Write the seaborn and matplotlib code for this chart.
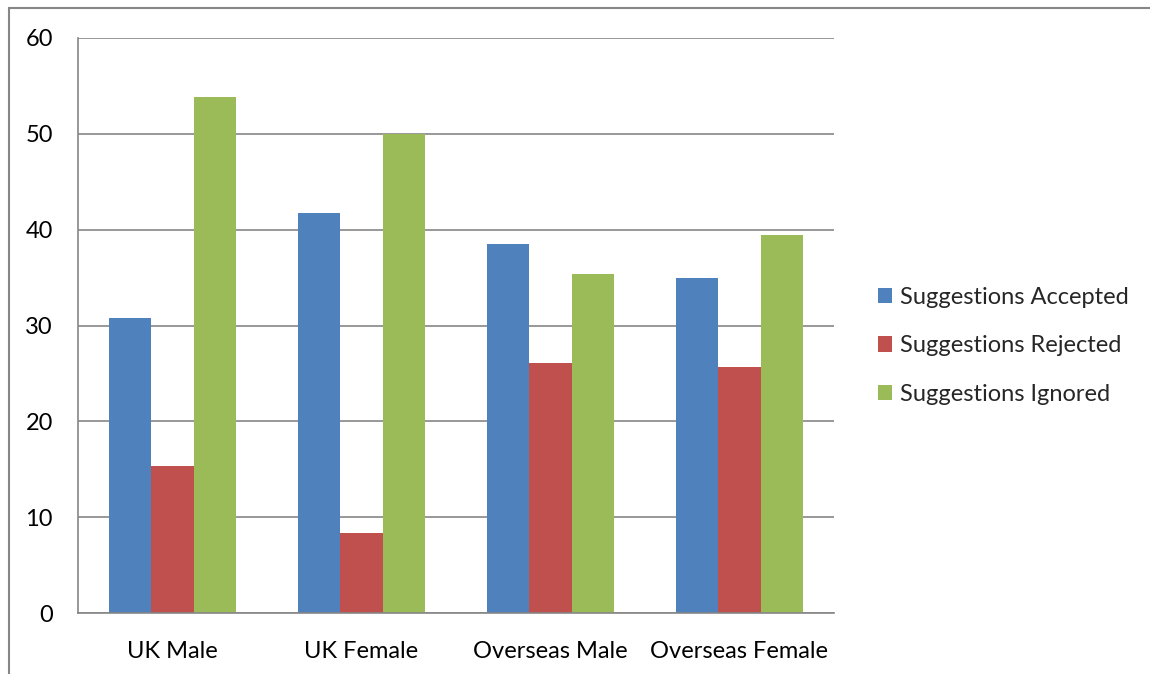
import matplotlib
matplotlib.use("Agg")
import matplotlib.pyplot as plt
import seaborn as sns
import pandas as pd
from matplotlib.patches import Rectangle, Patch

categories = ["UK Male", "UK Female", "Overseas Male", "Overseas Female"]
series = ["Suggestions Accepted", "Suggestions Rejected", "Suggestions Ignored"]
accepted = [30.8, 41.7, 38.5, 35.0]
rejected = [15.3, 8.3, 26.1, 25.7]
ignored = [53.8, 50.0, 35.4, 39.4]
colors = ["#4F81BD", "#C0504D", "#9BBB59"]
yticks = [0, 10, 20, 30, 40, 50, 60]

rows = []
for s, vals in zip(series, [accepted, rejected, ignored]):
    for c, v in zip(categories, vals):
        rows.append({"Category": c, "Series": s, "Value": v})
df = pd.DataFrame(rows)

sns.set_theme(style="white")
plt.rcParams['font.family'] = ['Lato', 'DejaVu Sans']

FS = 17
W, H = 1150, 674
fig = plt.figure(figsize=(W / 100, H / 100), dpi=100)
ax = fig.add_axes([78 / W, 1 - 613 / H, (834 - 78) / W, (613 - 38) / H])

sns.barplot(data=df, x="Category", y="Value", hue="Series", palette=colors,
            order=categories, hue_order=series, width=0.667, saturation=1,
            edgecolor="none", linewidth=0, ax=ax, legend=False)

ax.set_ylim(0, 60)
ax.set_xlim(-0.5, 3.5)
ax.set_yticks(yticks)
ax.set_yticklabels([str(t) for t in yticks], fontsize=FS, color="black")
ax.yaxis.grid(True, color="#868686", linewidth=1.2)
ax.set_axisbelow(True)
ax.set_xlabel("")
ax.set_ylabel("")
for sp in ["top", "right"]:
    ax.spines[sp].set_visible(False)
for sp in ["left", "bottom"]:
    ax.spines[sp].set_color("#868686")
    ax.spines[sp].set_linewidth(1.2)

ax.set_xticks([0, 1, 2, 3])
ax.set_xticklabels(categories, fontsize=FS, color="black")
ax.tick_params(axis="x", length=0, pad=20)
ax.set_xticks([-0.5, 0.5, 1.5, 2.5, 3.5], minor=True)
ax.tick_params(axis="x", which="minor", length=7, color="#868686", width=1.2, direction="out")
ax.tick_params(axis="y", length=8, color="#868686", width=1.2, direction="out", pad=10)

handles = [Patch(facecolor=c, edgecolor="none", label=s) for c, s in zip(colors, series)]
fig.legend(handles=handles, loc="upper left", bbox_to_anchor=(866 / W, 1 - 275 / H),
           frameon=False, fontsize=FS, handlelength=0.62, handleheight=0.62,
           handletextpad=0.3, labelspacing=1.16, borderpad=0)

fig.patches.append(Rectangle((9 / W, -0.1), 1.2, 1 - 8 / H + 0.1, transform=fig.transFigure,
                             fill=False, edgecolor="#868686", linewidth=1.5))

fig.savefig("out.png", dpi=100)
